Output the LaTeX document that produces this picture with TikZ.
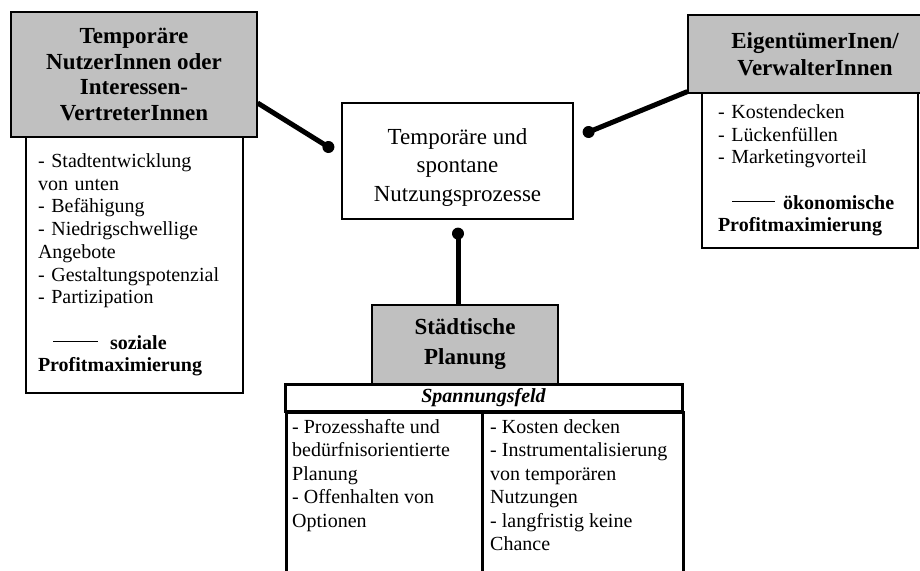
\documentclass[tikz,border=0pt]{standalone}
\usepackage{fontspec}
\setmainfont{Liberation Serif}
\usetikzlibrary{calc}
\definecolor{boxgrey}{HTML}{C0C0C0}
\begin{document}
\begin{tikzpicture}[x=1pt,y=-1pt,
  box/.style={draw, line width=1.2pt, inner sep=0pt, align=center, fill=white},
  greybox/.style={box, fill=boxgrey, font=\fontsize{23}{25.5}\selectfont\bfseries},
  bodybox/.style={box, align=left, font=\fontsize{20}{22.7}\selectfont},
  cell/.style={draw, line width=3pt, inner sep=0pt, anchor=north west},
  celltext/.style={inner sep=0pt, anchor=north west, align=left, font=\fontsize{20}{23.5}\selectfont},
  conn/.style={line width=5pt},
  dotend/.style={fill=black}]
\useasboundingbox (0,0) rectangle (920,570);
\clip (0,0) rectangle (920,570);

% left group
\node[greybox, minimum width=246pt, minimum height=125pt] (lhead) at (134,74.5)
  {Temporäre\\NutzerInnen oder\\Interessen-\\VertreterInnen};
\node[bodybox, minimum width=217pt, minimum height=256pt, text width=193pt, inner xsep=12pt] (lbody) at (134.5,265)
  {- Stadtentwicklung\\von unten\\- Befähigung\\- Niedrigschwellige\\Angebote\\- Gestaltungspotenzial\\- Partizipation\\[22.7pt]\hspace*{15pt}\rule[7pt]{45pt}{1.2pt}\hspace{12pt}\textbf{soziale}\\\textbf{Profitmaximierung}};

% centre
\node[box, minimum width=231pt, minimum height=116pt] (proc) at (457.5,161) {};
\node[inner sep=0pt, align=center, font=\fontsize{23}{28.5}\selectfont] (proctext) at ($(proc.center)+(0,6)$)
  {Temporäre und\\spontane\\Nutzungsprozesse};

% right group
\node[bodybox, minimum width=216pt, minimum height=155pt, text width=184pt, inner xsep=16pt] (rbody) at (810,170.5)
  {- Kostendecken\\- Lückenfüllen\\- Marketingvorteil\\[22.7pt]\hspace*{14pt}\rule[7pt]{43pt}{1.2pt}\hspace{8pt}\textbf{ökonomische}\\\textbf{Profitmaximierung}};
\node[greybox, minimum width=254pt, minimum height=78pt, font=\fontsize{23}{27}\selectfont\bfseries] (rhead) at (815,54)
  {EigentümerInen/\\VerwalterInnen};

% bottom group
\node[greybox, minimum width=186pt, minimum height=79pt, font=\fontsize{23}{30}\selectfont\bfseries] (stadt) at (465,344.5)
  {Städtische\\Planung};
\node[cell, minimum width=196pt, minimum height=190pt] (tleft) at (285,411) {};
\node[cell, minimum width=201pt, minimum height=190pt] (tright) at (481,411) {};
\node[cell, anchor=center, minimum width=397pt, minimum height=27pt, font=\fontsize{20}{24}\selectfont\bfseries\itshape] (thead) at (483.5,397.5) {Spannungsfeld};
\node[celltext] (tlefttext) at ($(tleft.north west)+(7,8)$)
  {- Prozesshafte und\\bedürfnisorientierte\\Planung\\- Offenhalten von\\Optionen};
\node[celltext] (trighttext) at ($(tright.north west)+(9,8)$)
  {- Kosten decken\\- Instrumentalisierung\\von temporären\\Nutzungen\\- langfristig keine\\Chance};

% connectors
\coordinate (ldot) at ($(proc.west)+(-13,-14)$);
\coordinate (rdot) at ($(proc.east)+(15,-29)$);
\coordinate (bdot) at ($(proc.south)+(0.5,14)$);
\draw[conn] ($(lhead.east)+(0,28.5)$) -- (ldot);
\fill[dotend] (ldot) circle (6pt);
\draw[conn] ($(rhead.south west)+(0,-2)$) -- (rdot);
\fill[dotend] (rdot) circle (6pt);
\draw[conn] (bdot) -- (bdot |- stadt.north);
\fill[dotend] (bdot) circle (6pt);
\end{tikzpicture}
\end{document}
